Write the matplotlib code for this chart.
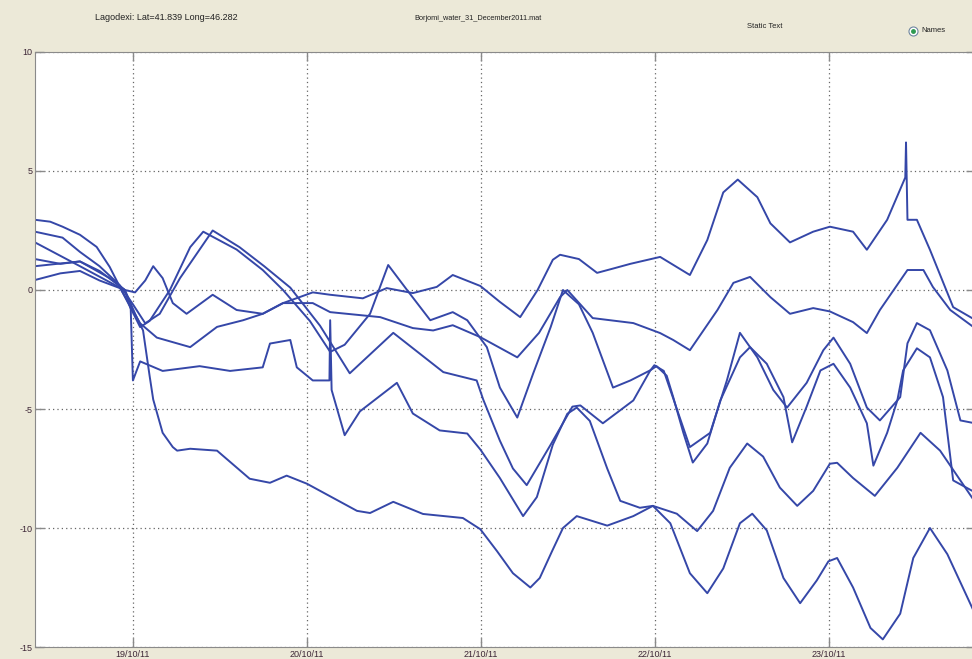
import numpy as np
import matplotlib
matplotlib.use('Agg')
import matplotlib.pyplot as plt
from matplotlib.lines import Line2D

plt.rcParams['font.family'] = ['Liberation Sans', 'DejaVu Sans']
plt.rcParams['axes.unicode_minus'] = False

# time axis: hours since 19/10/11 00:00
t_top = [-13.5, -7.3, -3.2, -1.1, 0.3, 1.7, 2.8, 4.1, 5.5, 7.4, 9.2, 11.0, 14.3, 17.9, 20.7,
         24.8, 27.2, 31.7, 35.0, 38.6, 41.9, 44.1, 47.9, 50.6, 53.4, 55.8, 57.9, 58.9, 61.5,
         64.0, 66.2, 68.6, 72.7, 76.8, 79.2, 81.4, 83.4, 86.1, 87.9, 90.6, 93.8, 96.1, 99.3,
         101.2, 104.0, 106.5, 106.6, 106.8, 108.1, 109.9, 113.1, 116.1]
v_top = [1.0, 1.2, 0.5, 0.0, -0.1, 0.4, 1.0, 0.5, -0.55, -1.0, -0.6, -0.2, -0.84, -1.0, -0.55,
         -0.1, -0.2, -0.35, 0.08, -0.13, 0.13, 0.63, 0.17, -0.5, -1.14, 0.0, 1.27, 1.48, 1.3,
         0.72, 0.9, 1.1, 1.39, 0.63, 2.1, 4.1, 4.64, 3.9, 2.8, 2.0, 2.45, 2.66, 2.45,
         1.69, 2.95, 4.73, 6.2, 2.95, 2.95, 1.69, -0.72, -1.25]

t_second = [-13.5, -7.3, -1.8, 1.0, 3.3, 7.9, 11.6, 15.2, 17.9, 20.7, 24.8, 27.2, 34.1, 38.6,
            41.4, 44.1, 47.9, 53.0, 56.0, 58.9, 59.9, 63.4, 69.0, 72.7, 74.5, 76.8, 80.6, 82.8,
            85.1, 87.9, 90.6, 93.8, 96.1, 99.3, 101.2, 103.0, 106.8, 109.0, 110.3, 112.7, 116.1]
v_second = [2.0, 1.0, 0.1, -1.4, -2.0, -2.4, -1.55, -1.27, -1.0, -0.55, -0.55, -0.93, -1.14, -1.6,
            -1.7, -1.48, -1.98, -2.83, -1.8, -0.3, 0.0, -1.18, -1.39, -1.81, -2.1, -2.53, -0.84, 0.3,
            0.55, -0.3, -1.0, -0.76, -0.9, -1.35, -1.81, -0.84, 0.84, 0.84, 0.13, -0.84, -1.6]

t_deep = [-13.5, -11.4, -9.7, -7.3, -5.0, -3.2, -1.8, -0.4, 1.0, 2.3, 5.1, 7.9, 9.7, 14.3,
          17.9, 20.7, 24.4, 27.2, 29.2, 32.7, 35.2, 37.8, 41.0, 44.1, 46.1, 48.8, 50.6, 53.0,
          55.2, 57.6, 59.3, 61.5, 63.4, 64.8, 66.2, 68.6, 71.3, 72.2, 73.6, 74.5, 75.9, 77.2,
          79.2, 81.0, 83.7, 85.1, 87.4, 89.7, 90.9, 92.9, 94.8, 96.6, 98.9, 101.2, 102.1,
          104.0, 105.4, 106.2, 108.1, 109.9, 111.7, 113.1, 116.1]
v_deep = [2.95, 2.87, 2.66, 2.32, 1.81, 0.97, 0.13, -0.7, -1.56, -1.3, 0.0, 1.8, 2.45, 1.7,
          0.84, 0.0, -1.3, -2.6, -2.3, -1.0, 1.05, 0.0, -1.27, -0.93, -1.27, -2.4, -4.1, -5.36,
          -3.5, -1.56, 0.0, -0.6, -1.8, -2.95, -4.1, -3.8, -3.38, -3.2, -3.6, -4.5, -6.0, -7.25,
          -6.45, -4.64, -2.83, -2.4, -3.1, -4.5, -6.4, -4.9, -3.38, -3.1, -4.1, -5.6, -7.38,
          -6.0, -4.64, -3.38, -2.45, -2.83, -4.5, -8.0, -8.5]

t_shallow = [-13.5, -9.7, -7.3, -4.6, -1.8, 0.0, 1.7, 3.7, 6.5, 11.0, 14.7, 18.1, 21.7, 25.8,
             29.9, 35.9, 42.8, 47.4, 48.3, 50.6, 52.4, 54.3, 57.6, 60.6, 61.7, 64.8, 69.0, 71.3,
             71.9, 73.2, 75.0, 76.8, 79.6, 81.9, 83.7, 86.1, 88.3, 90.2, 92.9, 95.2, 96.6, 98.9,
             101.2, 103.0, 105.8, 106.8, 108.1, 109.9, 112.3, 114.1, 116.1]
v_shallow = [2.45, 2.2, 1.6, 1.0, 0.2, -0.6, -1.4, -1.0, 0.5, 2.5, 1.8, 1.0, 0.1, -1.5,
             -3.5, -1.8, -3.45, -3.8, -4.6, -6.33, -7.5, -8.2, -6.5, -4.9, -4.85, -5.6, -4.64, -3.4,
             -3.16, -3.4, -5.0, -6.6, -6.0, -3.8, -1.8, -2.83, -4.2, -4.94, -3.9, -2.53, -2.0, -3.1,
             -4.94, -5.48, -4.5, -2.24, -1.39, -1.69, -3.38, -5.48, -5.6]

t_lower = [-13.5, -10.0, -7.3, -4.6, -1.1, -0.3, 0.0, 1.0, 4.1, 9.2, 13.4, 17.9, 18.9, 21.7,
           22.6, 24.8, 27.1, 27.2, 27.4, 29.2, 31.3, 36.4, 38.6, 42.3, 46.1, 47.9, 50.6, 53.8,
           55.7, 57.9, 59.9, 61.2, 63.0, 65.4, 67.2, 69.9, 71.7, 75.0, 77.8, 80.0, 82.3, 84.7,
           86.9, 89.2, 91.6, 93.8, 96.1, 97.1, 99.3, 102.3, 105.4, 108.6, 111.3, 116.1]
v_lower = [0.42, 0.7, 0.8, 0.4, 0.0, -0.8, -3.8, -3.0, -3.4, -3.2, -3.4, -3.25, -2.25, -2.1,
           -3.25, -3.8, -3.8, -1.27, -4.2, -6.1, -5.1, -3.9, -5.19, -5.9, -6.03, -6.7, -7.9, -9.5,
           -8.7, -6.5, -5.2, -4.94, -5.5, -7.5, -8.86, -9.15, -9.07, -9.4, -10.13, -9.28, -7.47, -6.45,
           -7.0, -8.3, -9.07, -8.44, -7.3, -7.26, -7.9, -8.65, -7.47, -6.0, -6.75, -8.9]

t_bottom = [-13.5, -10.0, -7.3, -4.6, -1.1, 0.3, 1.4, 2.3, 2.8, 4.1, 5.5, 6.1, 7.9, 11.6,
            16.1, 18.9, 21.2, 24.0, 30.9, 32.7, 35.9, 40.0, 45.5, 47.9, 50.2, 52.4, 54.8, 56.1,
            57.8, 59.3, 61.2, 65.4, 69.0, 71.7, 74.1, 76.8, 79.2, 81.4, 83.7, 85.4, 87.4, 89.7,
            92.0, 94.3, 95.9, 97.1, 99.3, 101.7, 103.4, 105.8, 107.6, 109.9, 112.3, 116.1]
v_bottom = [1.3, 1.1, 1.2, 0.8, 0.0, -1.0, -1.7, -3.6, -4.6, -6.0, -6.6, -6.75, -6.67, -6.75,
            -7.93, -8.1, -7.8, -8.14, -9.28, -9.37, -8.9, -9.41, -9.58, -10.05, -10.97, -11.9, -12.5, -12.1,
            -10.97, -10.0, -9.5, -9.9, -9.5, -9.07, -9.8, -11.9, -12.74, -11.7, -9.8, -9.4, -10.1, -12.1,
            -13.16, -12.2, -11.4, -11.26, -12.5, -14.2, -14.68, -13.6, -11.26, -10.0, -11.1, -13.6]

tick_hours = [0, 24, 48, 72, 96]
tick_labels = ['19/10/11', '20/10/11', '21/10/11', '22/10/11', '23/10/11']
y_ticks = [-15, -10, -5, 0, 5, 10]

series_t = [t_top, t_second, t_deep, t_shallow, t_lower, t_bottom]
series_v = [v_top, v_second, v_deep, v_shallow, v_lower, v_bottom]

fig = plt.figure(figsize=(9.72, 6.59), dpi=100, facecolor='#ece9d8')
ax = fig.add_axes([0.036, 0.0182, 0.967, 0.9029])
ax.set_facecolor('white')

for t, v in zip(series_t, series_v):
    ax.plot(t, v, color='#3547a8', lw=1.4)

ax.set_xlim(-13.5, 116.1)
ax.set_ylim(-15, 10)
ax.set_xticks(tick_hours)
ax.set_xticklabels(tick_labels)
ax.set_yticks(y_ticks)
ax.grid(True, color='#666666', lw=0.9, dashes=(1, 2.5))
ax.tick_params(direction='in', length=6.5, width=1, color='#8a8a8a', labelsize=6.5,
               labelcolor='#3d2636', top=True, right=True, pad=2)
for s in ax.spines.values():
    s.set_color('#8a8a8a')

# header texts of the GUI
fig.text(95 / 972, 1 - 17 / 659, 'Lagodexi: Lat=41.839 Long=46.282', fontsize=6.5,
         va='center', ha='left', color='#222222')
fig.text(478 / 972, 1 - 19 / 659, 'Borjomi_water_31_December2011.mat', fontsize=5.3,
         va='center', ha='center', color='#222222')
fig.text(765 / 972, 1 - 26 / 659, 'Static Text', fontsize=5.5, va='center', ha='center',
         color='#222222')
fig.add_artist(Line2D([913 / 972], [1 - 31 / 659], marker='o', ms=6.5, mfc='white',
                      mec='#6f86a0', mew=0.8, transform=fig.transFigure))
fig.add_artist(Line2D([913 / 972], [1 - 31 / 659], marker='o', ms=2.5, mfc='#2e9a50',
                      mec='#2e9a50', transform=fig.transFigure))
fig.text(921 / 972, 1 - 31 / 659, 'Names', fontsize=5.5, va='center', ha='left',
         color='#222222')

fig.savefig('out.png', dpi=100, facecolor=fig.get_facecolor())
